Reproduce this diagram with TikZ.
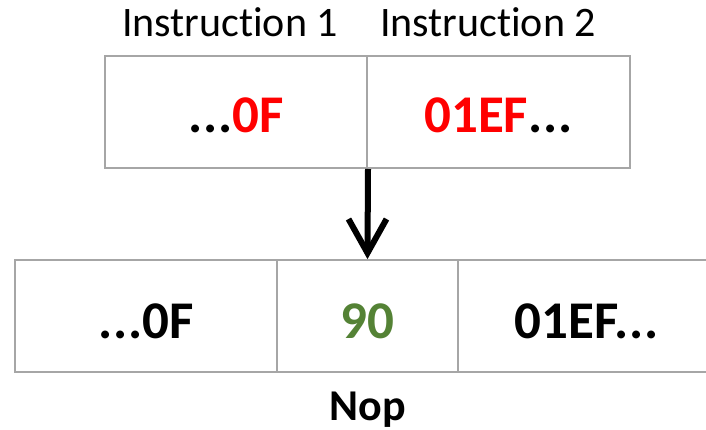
\documentclass[tikz,border=0pt]{standalone}
\usepackage{fontspec}
\setmainfont{Carlito}[Ligatures=NoCommon]
\usepackage{xcolor}
\usetikzlibrary{calc}
\definecolor{nopgreen}{HTML}{548235}
\definecolor{cellgray}{HTML}{A6A6A6}
\tikzstyle{cellbox} = [draw=cellgray, line width=2pt, rectangle,
    minimum height=112pt, inner sep=0pt]
\tikzstyle{celltext} = [font=\fontsize{53}{60}\selectfont\bfseries, anchor=base]
\tikzstyle{labeltext} = [font=\fontsize{42}{48}\selectfont, anchor=base]
\tikzstyle{patcharrow} = [line width=6pt, miter limit=3]
\newcommand{\more}{.\kern1pt.\kern1pt.}

\begin{document}
\begin{tikzpicture}[x=1pt, y=-1pt]
\useasboundingbox (0,0) rectangle (706,430);
% instructions before the patch
\node [cellbox, minimum width=262pt] (ins1) at (236,112) {};
\node [cellbox, minimum width=263pt] (ins2) at (498.5,112) {};
\node [celltext] at (236,133) {\more\textcolor{red}{0F}};
\node [celltext] at (498.5,133) {\textcolor{red}{01EF}\more};
\node [labeltext] (lab1) at (230,37) {Instruction 1};
\node [labeltext] (lab2) at (488,37) {Instruction 2};
% after inserting the nop
\node [cellbox, minimum width=262pt] (out1) at (146,316) {};
\node [cellbox, minimum width=181pt] (nop) at (367.5,316) {};
\node [cellbox, minimum width=258pt] (out2) at (587,316) {};
\node [celltext] at (146,338) {\more0F};
\node [celltext, text=nopgreen] at (367.5,338) {90};
\node [celltext] at (587,338) {01EF\more};
\node [labeltext, font=\fontsize{44}{50}\selectfont\bfseries] (noplab) at (367.5,420) {Nop};
% arrow
\coordinate (tip) at ($(nop.north)+(0,-6)$);
\draw [patcharrow] (ins1.south east) -- (tip);
\draw [patcharrow] ($(tip)+(-19,-34)$) -- (tip) -- ($(tip)+(19,-34)$);
\end{tikzpicture}
\end{document}
